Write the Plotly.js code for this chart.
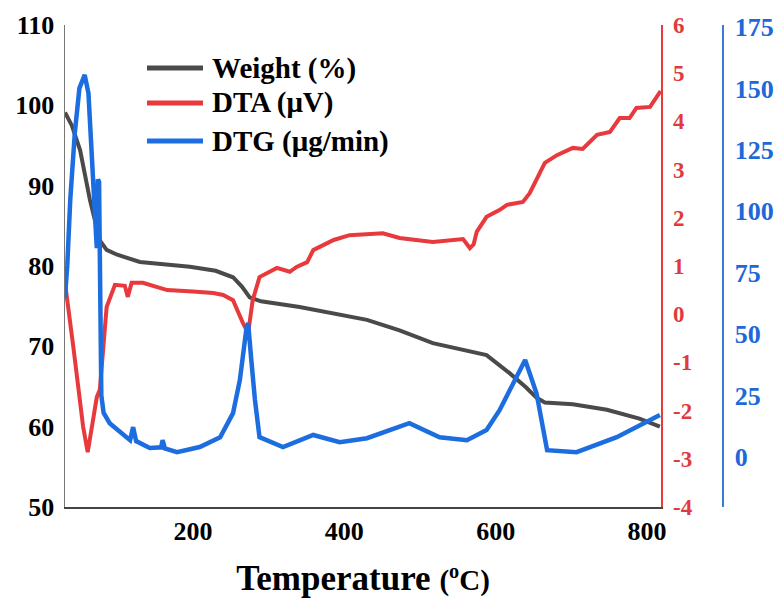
<!DOCTYPE html>
<html>
<head>
<meta charset="utf-8">
<script src="https://cdn.plot.ly/plotly-3.0.1.min.js"></script>
<style>html,body{margin:0;padding:0;background:#fff;}#chart{width:778px;height:601px;}</style>
</head>
<body>
<div id="chart"></div>
<script>
// Weight (%) vs temperature
const weightT = [31, 40, 51, 64, 77, 86, 100, 130, 196, 230, 253, 265, 275, 290, 341, 430, 473, 517, 588, 618, 640, 654, 665, 702, 747, 790, 817];
const weightV = [99.1, 97.5, 94.4, 88.2, 83.2, 82.0, 81.4, 80.5, 79.9, 79.4, 78.6, 77.4, 76.1, 75.6, 74.9, 73.3, 72.0, 70.4, 68.9, 66.7, 64.9, 63.6, 63.0, 62.8, 62.1, 61.0, 60.0];

// DTA (µV) vs temperature
const dtaT = [31, 36, 42, 55, 61, 68, 73, 77, 80, 86, 97, 110, 114, 119, 134, 166, 200, 227, 240, 253, 266, 273, 279, 288, 311, 328, 337, 351, 359, 386, 407, 451, 473, 517, 557, 562, 566, 571, 575, 588, 605, 615, 636, 645, 665, 681, 702, 715, 734, 751, 764, 777, 786, 804, 818];
const dtaV = [0.65, 0.1, -0.68, -2.34, -2.86, -2.2, -1.72, -1.57, -1.01, 0.15, 0.61, 0.59, 0.36, 0.65, 0.65, 0.50, 0.47, 0.44, 0.40, 0.29, -0.18, -0.39, 0.29, 0.77, 0.96, 0.88, 0.98, 1.08, 1.33, 1.54, 1.64, 1.68, 1.58, 1.50, 1.56, 1.45, 1.37, 1.45, 1.71, 2.02, 2.16, 2.27, 2.33, 2.51, 3.14, 3.30, 3.45, 3.43, 3.72, 3.78, 4.07, 4.07, 4.28, 4.30, 4.63];

// DTG (µg/min) vs temperature
const dtgT = [31, 34, 38, 44, 50, 57, 62, 66, 70, 73, 74.5, 76, 77, 79, 82, 90, 117, 121, 125, 143, 158, 160, 163, 179, 209, 236, 253, 262, 271, 273, 277, 282, 288, 319, 359, 394, 430, 473, 486, 526, 562, 588, 605, 639, 654, 668, 707, 760, 817];
const dtgV = [65, 78, 105, 132, 150, 155.5, 148, 128, 102, 85, 113, 112, 60, 25, 18, 13.8, 6.9, 12.2, 6.5, 3.7, 4.0, 6.9, 3.5, 2.0, 4.1, 8.1, 17.9, 31.3, 53, 54.5, 40, 23.2, 8.1, 4.1, 9.0, 6.1, 7.7, 12.2, 13.8, 8.1, 6.9, 11, 19, 39.5, 26, 2.8, 2.0, 8.1, 17.1];

const xTicks = [200, 400, 600, 800];
const weightTicks = [50, 60, 70, 80, 90, 100, 110];
const dtaTicks = [-4, -3, -2, -1, 0, 1, 2, 3, 4, 5, 6];
const dtaTickText = ['-4', '-3', '-2', '-1', '0', '1', '2', '3', '4', '5', '6'];
const dtgTicks = [0, 25, 50, 75, 100, 125, 150, 175];
const legendNames = ['Weight (%)', 'DTA (\u03bcV)', 'DTG (\u03bcg/min)'];

const GRAY = '#4a4a4a', RED = '#e8393c', BLUE = '#1c6ddf';
const FONT = 'Liberation Serif, Times New Roman, serif';

const traces = [
  {x: weightT, y: weightV, type: 'scatter', mode: 'lines', name: legendNames[0], line: {color: GRAY, width: 4}, yaxis: 'y'},
  {x: dtaT, y: dtaV, type: 'scatter', mode: 'lines', name: legendNames[1], line: {color: RED, width: 4}, yaxis: 'y2'},
  {x: dtgT, y: dtgV, type: 'scatter', mode: 'lines', name: legendNames[2], line: {color: BLUE, width: 4.5}, yaxis: 'y3'}
];

const L = 65, R = 56, T = 25, B = 94, W = 778, H = 601;
const pw = W - L - R, ph = H - T - B;
const px = v => (v - L) / pw;
const py = v => (H - B - v) / ph;

const legendY = [68, 103, 141];
const legendColors = [GRAY, RED, BLUE];
const shapes = legendY.map((yy, i) => ({
  type: 'line', xref: 'paper', yref: 'paper', x0: px(147), x1: px(203), y0: py(yy), y1: py(yy),
  line: {color: legendColors[i], width: 5}
}));
const annotations = legendY.map((yy, i) => ({
  xref: 'paper', yref: 'paper', x: px(210), y: py(yy), xanchor: 'left', yanchor: 'middle',
  text: '<b>' + legendNames[i] + '</b>', showarrow: false, font: {family: FONT, size: 29, color: '#000'}
}));

const layout = {
  width: W, height: H,
  margin: {l: L, r: R, t: T, b: B, pad: 0},
  paper_bgcolor: '#fff', plot_bgcolor: '#fff',
  showlegend: false,
  font: {family: FONT},
  xaxis: {
    domain: [0, 596 / pw], range: [31, 818.5], tickvals: xTicks, ticks: '',
    showgrid: false, zeroline: false, showline: true, linecolor: '#444', linewidth: 2,
    tickfont: {family: FONT, size: 26, color: '#000', weight: 'bold'},
    title: {text: '<b>Temperature <span style="font-size:29px">(<sup>o</sup>C)</span></b>', font: {family: FONT, size: 35, color: '#000'}, standoff: 20}
  },
  yaxis: {
    range: [50, 110], tickvals: weightTicks, ticks: '',
    showgrid: false, zeroline: false, showline: true, linecolor: '#777', linewidth: 1.5,
    tickfont: {family: FONT, size: 26, color: '#000', weight: 'bold'}, ticklabelstandoff: 4
  },
  yaxis2: {
    overlaying: 'y', side: 'right', anchor: 'x', range: [-4, 6], tickvals: dtaTicks, ticktext: dtaTickText, ticks: '',
    showgrid: false, zeroline: false, showline: true, linecolor: '#e8393c', linewidth: 1.5,
    tickfont: {family: FONT, size: 23, color: '#e03a3c', weight: 'bold'}, ticklabelstandoff: 6
  },
  yaxis3: {
    overlaying: 'y', side: 'right', anchor: 'free', position: 1, range: [-20.3, 175.8], tickvals: dtgTicks, ticks: '',
    showgrid: false, zeroline: false, showline: true, linecolor: '#3a7bd5', linewidth: 1.5,
    tickfont: {family: FONT, size: 26, color: '#2068d8', weight: 'bold'}, ticklabelstandoff: 6
  },
  shapes: shapes,
  annotations: annotations
};

Plotly.newPlot('chart', traces, layout, {displayModeBar: false, staticPlot: true});
</script>
</body>
</html>
